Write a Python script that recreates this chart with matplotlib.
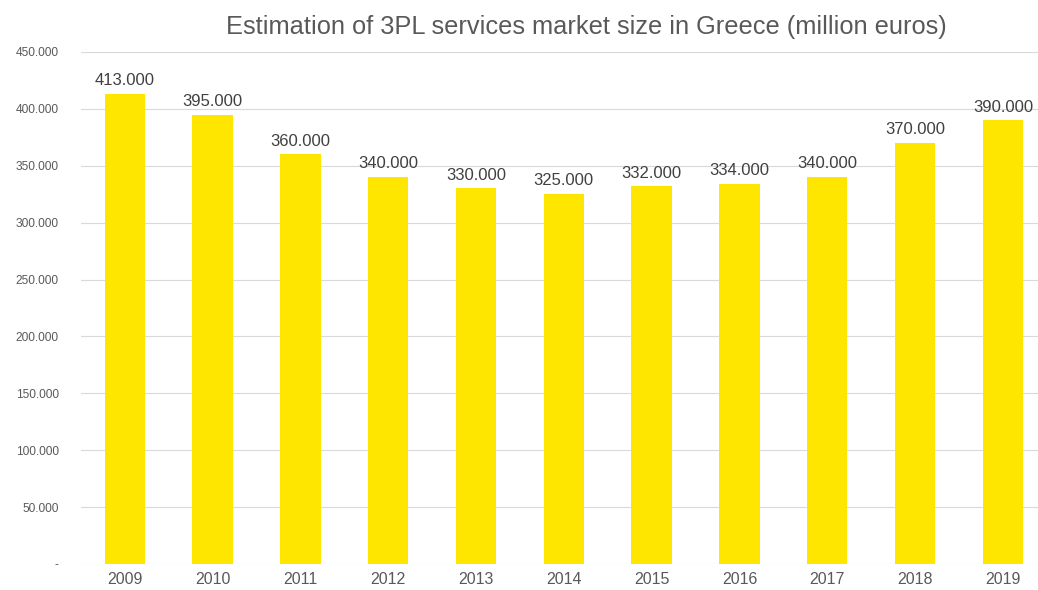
import matplotlib
matplotlib.use("Agg")
import matplotlib.pyplot as plt
from matplotlib.ticker import FuncFormatter

years = ["2009", "2010", "2011", "2012", "2013", "2014", "2015", "2016", "2017", "2018", "2019"]
market_size = [413000, 395000, 360000, 340000, 330000, 325000, 332000, 334000, 340000, 370000, 390000]

BAR_COLOR = "#FFE600"
TEXT_COLOR = "#595959"

plt.rcParams["font.family"] = ["Liberation Sans", "DejaVu Sans"]


def dotted(v):
    # thousands separated with a dot, zero shown as a dash
    if v == 0:
        return "-"
    return f"{int(round(v)):,}".replace(",", ".")


fig = plt.figure(figsize=(10.38, 5.9), dpi=100)
ax = fig.add_axes([0.078, 0.044, 0.922, 0.868])

x = range(len(years))
bars = ax.bar(x, market_size, width=0.46, color=BAR_COLOR, zorder=2)

for b, v in zip(bars, market_size):
    ax.text(b.get_x() + b.get_width() / 2, v + 5000, dotted(v),
            ha="center", va="bottom", fontsize=12, color="#404040")

ax.set_xlim(-0.5, 10.4)
ax.set_ylim(0, 450000)
ax.set_yticks(range(0, 450001, 50000))
ax.yaxis.set_major_formatter(FuncFormatter(lambda v, p: dotted(v)))
ax.set_xticks(list(x))
ax.set_xticklabels(years)

ax.grid(axis="y", color="#D9D9D9", linewidth=0.8, zorder=0)
for s in ax.spines.values():
    s.set_visible(False)
ax.tick_params(axis="both", length=0)
ax.tick_params(axis="y", labelsize=8.6, colors=TEXT_COLOR, pad=16)
ax.tick_params(axis="x", labelsize=11.5, colors=TEXT_COLOR, pad=6)

fig.text(0.565, 0.955, "Estimation of 3PL services market size in Greece (million euros)",
         ha="center", va="center", fontsize=18.3, color="#595959")

fig.savefig("out.png", dpi=100)
